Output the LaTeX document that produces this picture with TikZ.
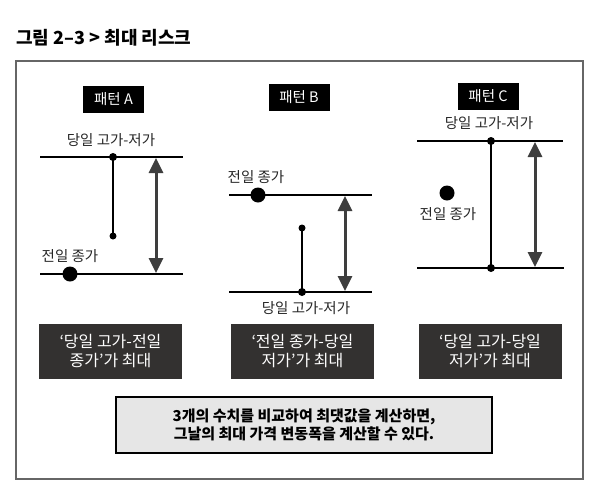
\documentclass[tikz,border=0pt]{standalone}
\usepackage{fontspec}
\setmainfont{Noto Sans CJK KR}
\usetikzlibrary{arrows.meta}
\definecolor{boxdark}{HTML}{333130}
\definecolor{arrowgray}{HTML}{3E3E3E}
\definecolor{framegray}{HTML}{666666}
\definecolor{lightbox}{HTML}{E6E6E6}
\tikzset{
  priceline/.style={line width=2.2pt, black},
  stem/.style={line width=1.8pt, black},
  smalldot/.style={circle, fill=black, inner sep=0pt, minimum size=8pt},
  enddot/.style={circle, fill=black, inner sep=0pt, minimum size=7pt},
  bigdot/.style={circle, fill=black, inner sep=0pt, minimum size=15pt},
  rangearrow/.style={line width=3pt, arrowgray, {Triangle[length=15pt,width=14pt]}-{Triangle[length=15pt,width=14pt]}, shorten <=-1pt, shorten >=-1pt},
  lbl/.style={font=\fontsize{14.5}{16}\selectfont, text=black!85, inner sep=0pt},
  tag/.style={fill=black, text=white, font=\fontsize{14.5}{16}\selectfont, minimum width=61pt, minimum height=27pt, inner sep=0pt},
  result/.style={fill=boxdark, text=white, font=\fontsize{16}{19}\selectfont, minimum width=143pt, minimum height=55pt, inner sep=0pt, align=center},
  summary/.style={fill=lightbox, draw=black, line width=1.8pt, font=\bfseries\fontsize{15}{18.5}\selectfont, minimum width=376pt, minimum height=56pt, inner sep=0pt, align=center}
}
\begin{document}
\begin{tikzpicture}[x=1pt,y=-1pt]
\useasboundingbox[fill=white] (0,0) rectangle (600,488);
% title
\node[anchor=west, inner sep=0pt, font=\bfseries\fontsize{18}{20}\selectfont] (title) at (16,38) {그림 2–3 > 최대 리스크};
% frame
\draw[framegray, line width=1.5pt] (16,61) rectangle (583,479);

% ---------- Pattern A ----------
\node[tag] (tagA) at (113.5,99) {패턴 A};
\coordinate (a1l) at (40,157); \coordinate (a1r) at (183,157);
\coordinate (a2l) at (40,274); \coordinate (a2r) at (183,274);
\draw[priceline] (a1l) -- (a1r);
\draw[priceline] (a2l) -- (a2r);
\node[smalldot] (ahi) at (113,157) {};
\node[enddot] (alo) at (113,236) {};
\draw[stem] (ahi.center) -- (alo.center);
\node[bigdot] (apc) at (70,274) {};
\coordinate (aat) at (156,159); \coordinate (aab) at (156,272);
\draw[rangearrow] (aat) -- (aab);
\node[lbl] (lAhl) at (111,140) {당일 고가-저가};
\node[lbl] (lApc) at (70,256) {전일 종가};

% ---------- Pattern B ----------
\node[tag] (tagB) at (299,97.5) {패턴 B};
\coordinate (b1l) at (229,195); \coordinate (b1r) at (372,195);
\coordinate (b2l) at (229,292); \coordinate (b2r) at (372,292);
\draw[priceline] (b1l) -- (b1r);
\draw[priceline] (b2l) -- (b2r);
\node[bigdot] (bpc) at (258,195) {};
\node[enddot] (bhi) at (302,228) {};
\node[smalldot] (blo) at (302,292) {};
\draw[stem] (bhi.center) -- (blo.center);
\coordinate (bat) at (345,197); \coordinate (bab) at (345,290);
\draw[rangearrow] (bat) -- (bab);
\node[lbl] (lBpc) at (256,177) {전일 종가};
\node[lbl] (lBhl) at (306,308) {당일 고가-저가};

% ---------- Pattern C ----------
\node[tag] (tagC) at (488,96) {패턴 C};
\coordinate (c1l) at (417,141); \coordinate (c1r) at (563,141);
\coordinate (c2l) at (417,268); \coordinate (c2r) at (564,268);
\draw[priceline] (c1l) -- (c1r);
\draw[priceline] (c2l) -- (c2r);
\node[smalldot] (chi) at (491,141) {};
\node[smalldot] (clo) at (491,268) {};
\draw[stem] (chi.center) -- (clo.center);
\node[bigdot] (cpc) at (447,193) {};
\coordinate (cat) at (535,143); \coordinate (cab) at (535,266);
\draw[rangearrow] (cat) -- (cab);
\node[lbl] (lChl) at (489,123) {당일 고가-저가};
\node[lbl] (lCpc) at (448,214) {전일 종가};

% ---------- result boxes ----------
\node[result] (rA) at (110.5,351.5) {‘당일 고가-전일\\종가’가 최대};
\node[result] (rB) at (302.5,351.5) {‘전일 종가-당일\\저가’가 최대};
\node[result] (rC) at (490,351) {‘당일 고가-당일\\저가’가 최대};

% ---------- summary ----------
\node[summary] (sum) at (304,425) {3개의 수치를 비교하여 최댓값을 계산하면,\\그날의 최대 가격 변동폭을 계산할 수 있다.};
\end{tikzpicture}
\end{document}
